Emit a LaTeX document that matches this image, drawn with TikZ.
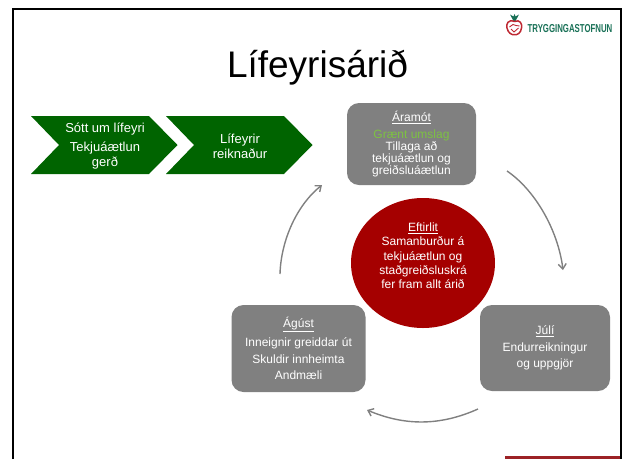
\documentclass[tikz,border=0pt]{standalone}
\usepackage{fontspec}
\setmainfont{Liberation Sans}
\usepackage{tikz}
\usetikzlibrary{shapes.geometric,arrows.meta}
\definecolor{chevgreen}{RGB}{0,100,0}
\definecolor{boxgrey}{RGB}{128,128,128}
\definecolor{circred}{RGB}{165,0,0}
\definecolor{barred}{RGB}{156,34,38}
\definecolor{umslag}{RGB}{125,194,66}
\definecolor{logogreen}{RGB}{24,112,86}
\definecolor{logored}{RGB}{190,40,50}
\tikzset{
  chevtext/.style={text=white,align=center,font=\fontsize{13}{15}\selectfont},
  greybox/.style={fill=boxgrey,rounded corners=12pt,text=white,align=center,inner sep=0pt,
    font=\fontsize{12}{12}\selectfont},
  cyclearrow/.style={-{Straight Barb[length=5pt,width=8pt]},draw=boxgrey,line width=1.4pt}
}
\begin{document}
\begin{tikzpicture}[x=1pt,y=-1pt]
    \useasboundingbox (0,0) rectangle (622,459);

    % Slide frame, open at the bottom
    \draw[line width=2.4pt] (13,459) -- (13,9) -- (621,9) -- (621,459);
    \fill[barred] (505,456) rectangle (619.5,459);

    % Title
    \node[inner sep=0pt] (title) at (317.5,67.5) {\fontsize{37}{40}\selectfont Lífeyrisárið};

    % Logo
    \fill[logogreen] (513.5,21) -- (510,14.5) -- (513.5,16.5) -- (514.5,14) -- (515.5,16.5) -- (519,14.5) -- (515.5,21) -- cycle;
    \draw[logored,line width=1.5pt] (514.5,21.5) .. controls (508,19) and (506,24) .. (507,28)
      .. controls (508,33) and (512,35.5) .. (514.5,34.5)
      .. controls (517,35.5) and (521,33) .. (521.5,28)
      .. controls (522.5,24) and (520,19) .. (514.5,21.5);
    \draw[logored,line width=0.9pt] (509.5,27) -- (513,24.5) -- (516,25.5) -- (519.5,26);
    \draw[logored,line width=0.9pt] (511,29) -- (514,32) -- (518.5,28);
    \node[inner sep=0pt,text=logogreen,xscale=0.68] (logotext) at (570,29)
      {\fontsize{11.5}{12}\selectfont\bfseries TRYGGINGASTOFNUN};

    % Green chevrons
    \foreach \x in {31,166} {
      \fill[chevgreen] (\x,116) -- ++(118,0) -- ++(28.5,29) -- ++(-28.5,29) -- ++(-118,0) -- ++(28,-29) -- cycle;
    }
    \node[chevtext] (sott) at (105,146) {Sótt um lífeyri\\[4pt]Tekjuáætlun\\gerð};
    \node[chevtext] (reiknadur) at (240,146) {Lífeyrir\\reiknaður};

    % Month boxes
    \node[greybox,minimum width=129pt,minimum height=82pt] (aramot) at (411.5,144)
      {\underline{Áramót}\\[5pt]\textcolor{umslag}{Grænt umslag}\\Tillaga að\\tekjuáætlun og\\greiðsluáætlun};
    \node[greybox,minimum width=134pt,minimum height=87pt] (agust) at (298.5,348.5)
      {\underline{Ágúst}\\[4.5pt]Inneignir greiddar út\\[4.5pt]Skuldir innheimta\\[4.5pt]Andmæli};
    \node[greybox,minimum width=130pt,minimum height=86pt] (juli) at (545,348)
      {\underline{Júlí}\\[4.5pt]Endurreikningur\\[4.5pt]og uppgjör};

    % Centre circle
    \node[ellipse,fill=circred,minimum width=144pt,minimum height=130pt,text=white,align=center,inner sep=0pt,
      font=\fontsize{12}{14.3}\selectfont] (eftirlit) at (423,263)
      {\underline{Eftirlit}\\Samanburður á\\tekjuáætlun og\\staðgreiðsluskrá\\fer fram allt árið\\\mbox{}};

    % Arrows round the cycle
    \coordinate (a1) at (507,171);
    \coordinate (a2) at (563,270);
    \coordinate (b1) at (478,409);
    \coordinate (b2) at (367,410);
    \coordinate (c1) at (280,274);
    \coordinate (c2) at (322,185);
    \draw[cyclearrow] (a1) .. controls (535,190) and (558,230) .. (a2);
    \draw[cyclearrow] (b1) .. controls (440,426) and (405,426) .. (b2);
    \draw[cyclearrow] (c1) .. controls (281,240) and (297,205) .. (c2);
\end{tikzpicture}
\end{document}
